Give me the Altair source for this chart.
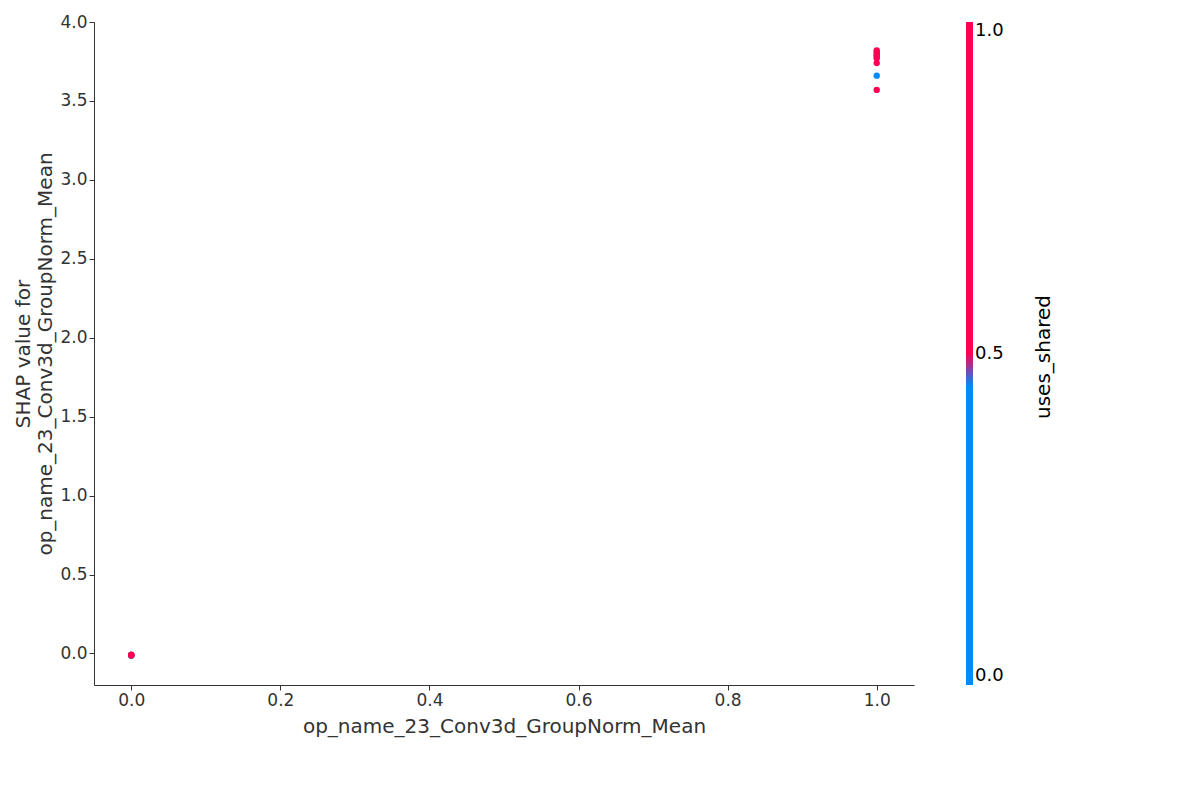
import altair as alt
import pandas as pd

feature = [0, 0, 0, 0, 0, 0, 1, 1, 1, 1, 1, 1, 1, 1, 1]
shap = [-0.01, -0.015, -0.012, -0.008, -0.01, -0.013,
        3.82, 3.81, 3.80, 3.79, 3.78, 3.77, 3.74, 3.66, 3.57]
uses_shared = [0, 0, 0, 1, 1, 1, 1, 1, 1, 1, 1, 1, 1, 0, 1]

df = pd.DataFrame({'x': feature, 'y': shap, 'c': uses_shared})

points = alt.Chart(df).mark_circle(size=40, opacity=1).encode(
    x=alt.X('x:Q', title='op_name_23_Conv3d_GroupNorm_Mean',
            scale=alt.Scale(domain=[-0.05, 1.05], nice=False, zero=False),
            axis=alt.Axis(values=[0, 0.2, 0.4, 0.6, 0.8, 1.0], format='.1f')),
    y=alt.Y('y:Q', title=['SHAP value for', 'op_name_23_Conv3d_GroupNorm_Mean'],
            scale=alt.Scale(domain=[-0.2, 4.0], nice=False, zero=False),
            axis=alt.Axis(values=[0, 0.5, 1, 1.5, 2, 2.5, 3, 3.5, 4], format='.1f')),
    color=alt.Color('c:Q', title=None,
                    scale=alt.Scale(domain=[0, 0.4999, 0.5, 1],
                                    range=['#008bfb', '#008bfb', '#ff0052', '#ff0052']),
                    legend=alt.Legend(gradientLength=663, gradientThickness=7,
                                      values=[0, 0.5, 1], format='.1f',
                                      labelFontSize=18, labelColor='black',
                                      offset=52, gradientStrokeWidth=0))
)

legend_title = alt.Chart(pd.DataFrame({'t': ['uses_shared']})).mark_text(
    angle=270, fontSize=20, color='black', font='DejaVu Sans'
).encode(text='t:N', x=alt.value(950), y=alt.value(335))

chart = alt.layer(points, legend_title).properties(
    width=820, height=663
).configure_view(stroke=None).configure_axis(
    grid=False, labelFontSize=17, titleFontSize=20, titleFontWeight='normal',
    labelColor='#333', titleColor='#333', domainColor='#333', tickColor='#333',
    labelFont='DejaVu Sans', titleFont='DejaVu Sans'
).configure_axisX(titlePadding=8).configure_legend(labelFont='DejaVu Sans')

chart.save("out.html", embed_options={"renderer": "svg", "actions": False})
